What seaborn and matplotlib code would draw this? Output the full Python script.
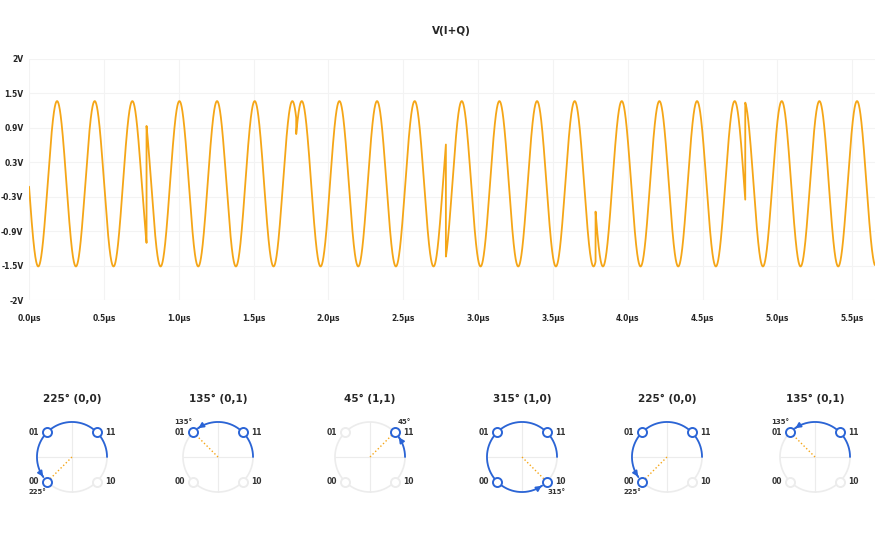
import numpy as np
import pandas as pd
import seaborn as sns
import matplotlib.pyplot as plt

# symbol sequence (phase in degrees) and the bit pairs
phases = [225, 135, 45, 315, 225, 135]
bits = ["(0,0)", "(0,1)", "(1,1)", "(1,0)", "(0,0)", "(0,1)"]
# symbol boundaries in µs
bounds = [0.0, 0.785, 1.785, 2.785, 3.785, 4.785, 5.65]
carrier_mhz = 3.976
phase_offset = -43
amplitude = 1.37
dc_offset = -0.07

ytick_labels = ["-2V", "-1.5V", "-0.9V", "-0.3V", "0.3V", "0.9V", "1.5V", "2V"]
xtick_vals = [0.0, 0.5, 1.0, 1.5, 2.0, 2.5, 3.0, 3.5, 4.0, 4.5, 5.0, 5.5]

const_angles = [45, 135, 225, 315]
const_names = ["11", "01", "00", "10"]

ORANGE = "#f5a617"
BLUE = "#2a64d6"
FAINT = "#ececec"

# build waveform from the symbol phases
rows = []
for i, ph in enumerate(phases):
    t = np.linspace(bounds[i], bounds[i + 1], 3000)
    v = dc_offset + amplitude * np.sin(2 * np.pi * carrier_mhz * t + np.radians(ph + phase_offset))
    rows.append(pd.DataFrame({"t": t, "v": v}))
wave = pd.concat(rows, ignore_index=True)

sns.set_style("white")
plt.rcParams["font.family"] = ["DejaVu Sans"]
fig = plt.figure(figsize=(8.8, 5.4), dpi=100)

ax = fig.add_axes([0.033, 0.444, 0.961, 0.447])
sns.lineplot(data=wave, x="t", y="v", ax=ax, color=ORANGE, lw=1.3, estimator=None, sort=False)
ax.set_xlim(0, 5.65)
ax.set_ylim(-2, 2)
ax.set_yticks(np.linspace(-2, 2, 8))
ax.set_yticklabels(ytick_labels)
ax.set_xticks(xtick_vals)
ax.set_xticklabels([f"{x:.1f}µs" for x in xtick_vals])
ax.tick_params(axis="both", labelsize=5.5, length=0, pad=4)
ax.tick_params(axis="x", pad=10)
for lab in ax.get_xticklabels() + ax.get_yticklabels():
    lab.set_fontweight("bold")
ax.grid(True, color="#f3f3f3", lw=0.8)
for s in ax.spines.values():
    s.set_visible(False)
ax.set_xlabel("")
ax.set_ylabel("")
ax.set_title("V(I+Q)", fontsize=7.5, fontweight="bold", pad=18)

# constellation phasor panels
centers = [72, 218, 370, 522, 667, 815]
size = 110
for cx, ph, b in zip(centers, phases, bits):
    pa = fig.add_axes([(cx - size / 2) / 880, (540 - 457 - size / 2) / 540, size / 880, size / 540])
    lim = 1.57
    pa.set_xlim(-lim, lim)
    pa.set_ylim(-lim, lim)
    pa.set_aspect("equal")
    pa.axis("off")
    th = np.linspace(0, 2 * np.pi, 200)
    pa.plot(np.cos(th), np.sin(th), color=FAINT, lw=1.2)
    pa.plot([-1, 1], [0, 0], color=FAINT, lw=0.8)
    pa.plot([0, 0], [-1, 1], color=FAINT, lw=0.8)
    # arc from 0 deg to the symbol phase
    arc = np.radians(np.linspace(0, ph - 10, 200))
    pa.plot(np.cos(arc), np.sin(arc), color=BLUE, lw=1.3)
    a1, a2 = np.radians(ph - 16), np.radians(ph - 6)
    pa.annotate("", xy=(np.cos(a2), np.sin(a2)), xytext=(np.cos(a1), np.sin(a1)),
                arrowprops=dict(arrowstyle="-|>", color=BLUE, lw=1.2, mutation_scale=8))
    r = np.radians(ph)
    pa.plot([0, 0.9 * np.cos(r)], [0, 0.9 * np.sin(r)], color=ORANGE, lw=1.0, ls=":")
    for ang, name in zip(const_angles, const_names):
        ra = np.radians(ang)
        x, y = np.cos(ra), np.sin(ra)
        on_arc = ang <= ph
        pa.plot(x, y, "o", ms=6.5, mfc="white", mec=BLUE if on_arc else FAINT, mew=1.4, zorder=5)
        dx = -0.38 if x < 0 else 0.38
        pa.text(x + dx, y, name, fontsize=5.5, fontweight="bold", ha="center", va="center", color="#333333")
    pa.text(1.4 * np.cos(r), 1.4 * np.sin(r), f"{ph}°",
            fontsize=5, fontweight="bold", ha="center", va="center", color="#333333")
    pa.set_title(f"{ph}° {b}", fontsize=7.5, fontweight="bold", pad=0)

fig.savefig("out.png", dpi=100)
